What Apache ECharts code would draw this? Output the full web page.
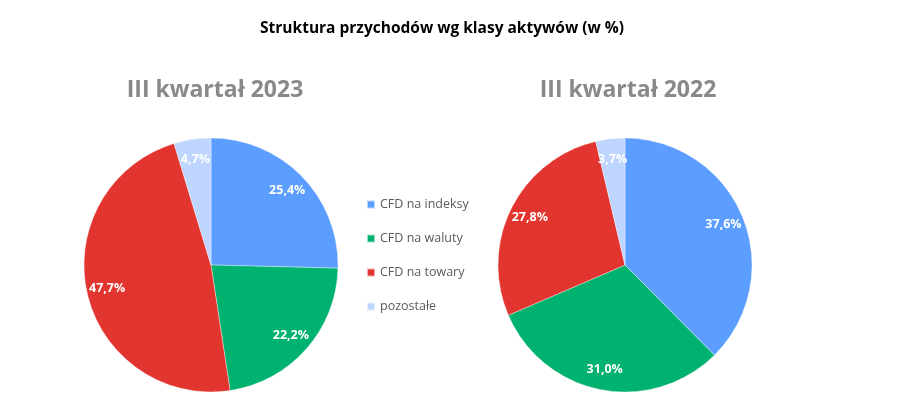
<!DOCTYPE html>
<html>
<head>
<meta charset="utf-8">
<script src="https://cdn.jsdelivr.net/npm/echarts@6/dist/echarts.min.js"></script>
<style>
  html, body { margin: 0; padding: 0; background: #fff; }
  #chart { width: 908px; height: 416px; }
</style>
</head>
<body>
<div id="chart"></div>
<script>
// Revenue structure by asset class, Q3 2023 vs Q3 2022 — two pies + shared legend.

const categories = ["CFD na indeksy", "CFD na waluty", "CFD na towary", "pozostałe"];
const colors = ["#5C9EFF", "#00B26F", "#E2352F", "#BED5FF"];
const q3_2023 = [25.4, 22.2, 47.7, 4.7];
const q3_2022 = [37.6, 31.0, 27.8, 3.7];

const FONT = "'Open Sans', 'Noto Sans', sans-serif";
const pct = (v) => v.toFixed(1).replace(".", ",") + "%";
const rows = (vals) => vals.map((v, i) => ({ name: categories[i], value: v }));

// pie body (no labels) + transparent ring on top that only carries the labels,
// so they sit out near the rim like the original
function pie(center, vals) {
  return [
    {
      type: "pie", center, radius: [0, 127], startAngle: 90, clockwise: true,
      data: rows(vals), label: { show: false }, labelLine: { show: false },
      itemStyle: { borderColor: "rgba(255,255,255,0.6)", borderWidth: 0.6 },
      emphasis: { scale: false },
    },
    {
      type: "pie", center, radius: [80, 127], startAngle: 90, clockwise: true,
      data: rows(vals), silent: true, legendHoverLink: false,
      itemStyle: { color: "transparent" },
      label: {
        show: true, position: "inside", color: "#fff", fontFamily: FONT,
        fontWeight: "bold", fontSize: 12.5, formatter: (p) => pct(p.value),
      },
      labelLine: { show: false },
    },
  ];
}

const chart = echarts.init(document.getElementById("chart"));
chart.setOption({
  animation: false,
  color: colors,
  title: [
    { text: "Struktura przychodów wg klasy aktywów (w %)", left: 437, top: 16, textAlign: "center",
      textStyle: { fontFamily: FONT, fontSize: 15.5, fontWeight: "bold", color: "#000" } },
    { text: "III kwartał 2023", left: 210, top: 74, textAlign: "center",
      textStyle: { fontFamily: FONT, fontSize: 23, fontWeight: "bold", color: "#898989" } },
    { text: "III kwartał 2022", left: 623, top: 74, textAlign: "center",
      textStyle: { fontFamily: FONT, fontSize: 23, fontWeight: "bold", color: "#898989" } },
  ],
  legend: {
    data: categories, orient: "vertical", left: 361, top: 193,
    icon: "rect", itemWidth: 8, itemHeight: 8, itemGap: 21,
    textStyle: { fontFamily: FONT, fontSize: 12.5, color: "#5a5a5a" },
  },
  series: [...pie([211, 265], q3_2023), ...pie([625, 265], q3_2022)],
});
</script>
</body>
</html>
